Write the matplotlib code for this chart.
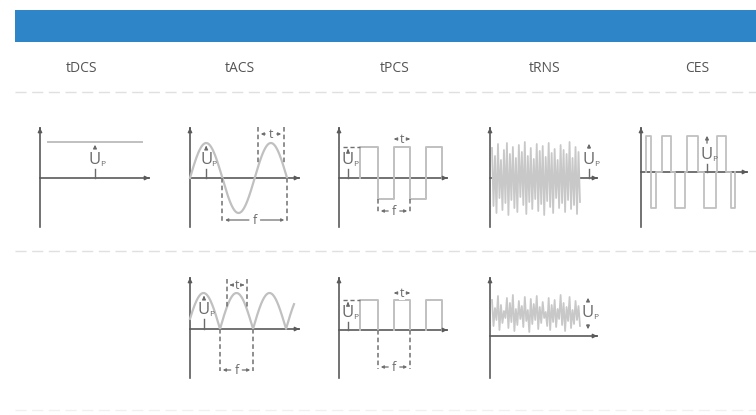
import numpy as np
import matplotlib.pyplot as plt
from matplotlib.patches import Rectangle

# column headers
methods = ['tDCS', 'tACS', 'tPCS', 'tRNS', 'CES']
header_x = [82, 240, 395, 545, 697]

# sine (tACS): period and amplitude in px
sine_period = 64.7
sine_amp = 35
rect_half = 33        # rectified sine hump width
rect_amp = 36

# tPCS pulse edges (offset from y-axis) and levels
pcs_edges = [21, 39, 55, 71, 87, 103]
pcs_hi = 31
pcs_lo = -21
pcs2_hi = 30

# CES irregular pulses: (start, end, level)
ces_pulses = [(5, 10, 36), (10, 15, -36), (21, 30, 36), (34, 44, -36),
              (46, 57, 36), (63, 75, -36), (76, 85, 36), (90, 94, -36)]

# tRNS noise (px above / below axis)
rns1_hi = [30, 22, 34, 18, 28, 35, 24, 31, 20, 33, 26, 36, 22, 30, 19,
           34, 27, 32, 21, 35, 25, 29, 18, 33, 28, 24, 36, 20, 31, 26]
rns1_lo = [-28, -35, -20, -32, -25, -37, -22, -30, -34, -19, -27, -36, -24, -31, -21,
           -33, -26, -37, -23, -29, -35, -20, -30, -25, -34, -22, -31, -27, -36, -24]
rns2_hi = [36, 28, 40, 31, 25, 38, 33, 41, 27, 35, 30, 39, 26, 37, 32,
           40, 29, 34, 24, 38, 31, 36, 27, 41, 33, 29, 39, 26, 35, 30]
rns2_lo = [10, 16, 6, 13, 18, 8, 14, 5, 11, 17, 9, 15, 4, 12, 16,
           7, 13, 18, 10, 6, 14, 9, 17, 11, 5, 15, 8, 12, 16, 10]

AX = '#5a5a5a'
WAVE = '#c0c0c0'
DASH = '#707070'
TXT = '#6a6a6a'
FONT = ['Open Sans', 'DejaVu Sans']

fig = plt.figure(figsize=(7.56, 4.15), dpi=100)
ax = fig.add_axes([0, 0, 1, 1])
ax.set_xlim(0, 756)
ax.set_ylim(415, 0)
ax.axis('off')

ax.add_patch(Rectangle((15, 10), 741, 32, color='#2e86c8', lw=0))
for name, x in zip(methods, header_x):
    ax.text(x, 68, name, ha='center', va='center', fontsize=10, color='#555555',
            family=FONT)

for y in [92, 251, 410]:
    ax.plot([15, 756], [y, y], color='#e0e0e0' if y < 400 else '#f0f0f0',
            lw=1, dashes=(8, 4))


def axes_arrows(ox, oy, top, bottom, right):
    ax.plot([ox, ox], [bottom, top + 3], color=AX, lw=1.2)
    ax.plot([ox, right - 3], [oy, oy], color=AX, lw=1.2)
    ax.annotate('', xy=(ox, top), xytext=(ox, top + 6),
                arrowprops=dict(arrowstyle='-|>', color=AX, lw=1, mutation_scale=6))
    ax.annotate('', xy=(right, oy), xytext=(right - 6, oy),
                arrowprops=dict(arrowstyle='-|>', color=AX, lw=1, mutation_scale=6))


def up_label(x, top, ty, oy, down=False):
    ax.annotate('', xy=(x, top), xytext=(x, ty - 9),
                arrowprops=dict(arrowstyle='-|>', color=TXT, lw=0.9, mutation_scale=5))
    if down:
        ax.annotate('', xy=(x, oy), xytext=(x, ty + 9),
                    arrowprops=dict(arrowstyle='-|>', color=TXT, lw=0.9, mutation_scale=5))
    else:
        ax.plot([x, x], [ty + 9, oy], color=TXT, lw=1)
    ax.text(x, ty, 'U', ha='center', va='center', fontsize=12, color=TXT, family=FONT)
    ax.text(x + 5, ty + 4, 'P', ha='left', va='center', fontsize=6, color=TXT, family=FONT)


def bracket(x0, x1, y, label):
    xm = (x0 + x1) / 2
    for xe in (x0, x1):
        ax.annotate('', xy=(xe, y), xytext=(xm + (3 if xe > xm else -3), y),
                    arrowprops=dict(arrowstyle='-|>', color=DASH, lw=0.9, mutation_scale=4))
    ax.text(xm, y, label, ha='center', va='center', fontsize=9, color=TXT,
            family=FONT, bbox=dict(fc='white', ec='none', pad=0.5))


def vdash(x, y0, y1):
    ax.plot([x, x], [y0, y1], color=DASH, lw=1.1, dashes=(3, 2))


# ---- row 1 ----
# tDCS
ox, oy = 40, 178
axes_arrows(ox, oy, 125, 227, 152)
ax.plot([48, 142], [oy - 36, oy - 36], color=WAVE, lw=1.4)
up_label(95, oy - 36, 160, oy)

# tACS
ox, oy = 190, 178
axes_arrows(ox, oy, 125, 227, 302)
xs = np.linspace(0, 1.5 * sine_period, 200)
ax.plot(ox + xs, oy - sine_amp * np.sin(2 * np.pi * xs / sine_period), color=WAVE, lw=1.6)
up_label(ox + sine_period / 4, oy - sine_amp, 160, oy)
vdash(258, 127, 165)
vdash(284, 127, 165)
bracket(258, 284, 134, 't')
vdash(ox + sine_period / 2, oy, 221)
vdash(ox + 1.5 * sine_period, oy, 221)
bracket(ox + sine_period / 2, ox + 1.5 * sine_period, 220, 'f')

# tPCS biphasic
ox, oy = 339, 178
axes_arrows(ox, oy, 125, 227, 450)
px, py = [ox + pcs_edges[0]], [oy]
for i in range(len(pcs_edges) - 1):
    lvl = pcs_hi if i % 2 == 0 else pcs_lo
    px += [ox + pcs_edges[i], ox + pcs_edges[i + 1]]
    py += [oy - lvl, oy - lvl]
px.append(ox + pcs_edges[-1])
py.append(oy)
ax.plot(px, py, color=WAVE, lw=1.4)
ax.plot([343, ox + pcs_edges[0]], [oy - pcs_hi, oy - pcs_hi], color=DASH, lw=1, dashes=(3, 2))
up_label(348, oy - pcs_hi + 2, 160, oy)
bracket(ox + pcs_edges[2], ox + pcs_edges[3], 139, 't')
vdash(ox + pcs_edges[1], oy - pcs_lo, 213)
vdash(ox + pcs_edges[3], oy - pcs_lo, 213)
bracket(ox + pcs_edges[1], ox + pcs_edges[3], 211, 'f')

# tRNS
ox, oy = 490, 178
axes_arrows(ox, oy, 125, 227, 600)
nx = np.linspace(492, 580, 2 * len(rns1_hi))
ny = np.empty(2 * len(rns1_hi))
ny[0::2] = rns1_hi
ny[1::2] = rns1_lo
ax.plot(nx, oy - ny, color='#c8c8c8', lw=1.3)
up_label(589, 141, 160, oy)

# CES
ox, oy = 641, 172
axes_arrows(ox, oy, 125, 227, 750)
cx, cy = [], []
for s, e, lvl in ces_pulses:
    cx += [ox + s, ox + s, ox + e, ox + e]
    cy += [oy, oy - lvl, oy - lvl, oy]
ax.plot(cx, cy, color=WAVE, lw=1.3)
up_label(707, 133, 155, oy)

# ---- row 2 ----
# tACS rectified
ox, oy = 190, 329
axes_arrows(ox, oy, 275, 378, 302)
xs = np.linspace(0, 104, 250)
ax.plot(ox + xs, oy - rect_amp * np.abs(np.sin(np.pi * (xs + 3) / rect_half)), color=WAVE, lw=1.6)
up_label(204, oy - rect_amp, 310, oy)
vdash(227, 279, 307)
vdash(247, 279, 307)
bracket(227, 247, 285, 't')
vdash(220, oy, 371)
vdash(253, oy, 371)
bracket(220, 253, 370, 'f')

# tPCS monophasic
ox, oy = 339, 330
axes_arrows(ox, oy, 275, 378, 450)
for i in range(0, len(pcs_edges), 2):
    s, e = pcs_edges[i], pcs_edges[i + 1]
    ax.plot([ox + s, ox + s, ox + e, ox + e], [oy, oy - pcs2_hi, oy - pcs2_hi, oy],
            color=WAVE, lw=1.4)
ax.plot([343, ox + pcs_edges[0]], [oy - pcs2_hi, oy - pcs2_hi], color=DASH, lw=1, dashes=(3, 2))
up_label(348, oy - pcs2_hi + 2, 313, oy)
bracket(ox + pcs_edges[2], ox + pcs_edges[3], 293, 't')
vdash(ox + pcs_edges[1], oy, 369)
vdash(ox + pcs_edges[3], oy, 369)
bracket(ox + pcs_edges[1], ox + pcs_edges[3], 367, 'f')

# tRNS offset
ox, oy = 490, 336
axes_arrows(ox, oy, 275, 378, 600)
nx = np.linspace(492, 580, 2 * len(rns2_hi))
ny = np.empty(2 * len(rns2_hi))
ny[0::2] = rns2_hi
ny[1::2] = rns2_lo
ax.plot(nx, oy - ny, color='#c8c8c8', lw=1.3)
up_label(588, 295, 313, 332, down=True)

fig.savefig('out.png', dpi=100)
